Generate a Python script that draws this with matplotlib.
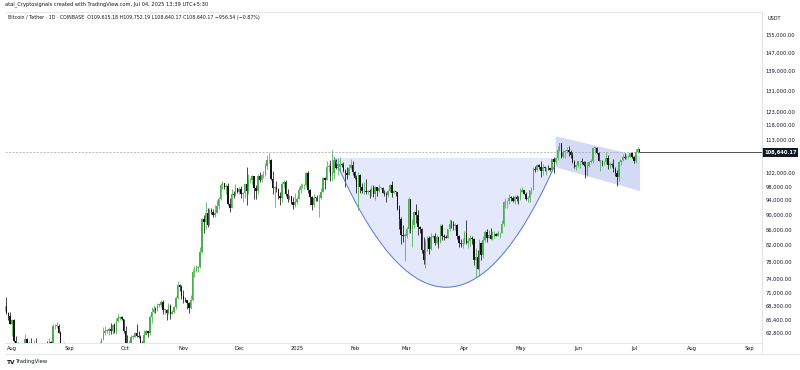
import numpy as np
import matplotlib.pyplot as plt
import matplotlib.dates as mdates
from matplotlib.ticker import NullLocator, FuncFormatter

# BTC/USDT daily candles, thousands of USDT, first day 2024-07-28
first_day = '2024-07-28'
first_open = 67.9

close = [
    # Jul 28-31
    68.2, 66.8, 66.2, 64.6,
    # Aug
    65.3, 61.4, 60.7, 58.1, 54.0, 56.0, 55.1, 61.7, 60.9, 60.9, 58.7, 59.4, 60.6, 58.7, 57.5, 58.9,
    59.5, 58.4, 59.5, 59.0, 61.2, 60.4, 64.1, 64.2, 64.2, 62.8, 59.4, 59.0, 59.4, 59.1, 58.9,
    # Sep
    57.3, 59.1, 57.5, 58.0, 56.2, 54.0, 54.8, 54.9, 57.0, 57.6, 57.3, 58.1, 60.5, 60.0, 59.2,
    58.2, 60.3, 61.7, 62.9, 63.2, 63.3, 63.6, 63.3, 64.3, 63.1, 65.2, 65.8, 65.9, 65.6, 63.3,
    # Oct
    60.8, 60.6, 60.8, 62.1, 62.1, 62.8, 62.2, 62.1, 60.6, 60.3, 62.5, 63.2, 62.8, 66.0, 67.0, 67.6,
    67.4, 68.4, 68.4, 69.0, 67.4, 67.4, 66.7, 68.2, 66.6, 67.0, 67.9, 69.9, 72.7, 72.3, 70.2,
    # Nov
    69.5, 69.4, 68.8, 67.8, 69.4, 75.6, 75.9, 76.5, 76.7, 80.4, 88.7, 87.9, 90.5, 87.3, 91.1,
    90.6, 89.8, 90.5, 92.3, 94.3, 98.3, 98.9, 97.7, 98.0, 93.0, 91.9, 95.9, 95.6, 97.5, 96.4,
    # Dec
    97.2, 95.9, 96.0, 98.8, 96.6, 99.9, 99.9, 101.2, 97.4, 96.7, 101.2, 100.0, 101.4, 101.4, 104.3,
    106.1, 106.1, 100.2, 97.5, 97.8, 97.2, 95.1, 94.7, 98.7, 99.4, 95.8, 94.2, 95.2, 93.6, 92.6, 93.4,
    # Jan 2025
    94.4, 96.9, 98.1, 98.2, 98.3, 102.1, 96.9, 95.0, 92.5, 94.7, 94.6, 94.5, 94.5, 96.5, 100.5,
    99.9, 104.1, 104.4, 101.1, 102.0, 106.1, 103.7, 104.0, 104.8, 104.7, 102.6, 102.0, 101.3, 103.7,
    104.7, 102.4,
    # Feb
    100.6, 97.7, 101.4, 97.8, 96.6, 96.6, 96.5, 96.5, 96.4, 97.4, 95.7, 97.8, 96.6, 97.5,
    97.6, 96.2, 95.8, 95.5, 96.6, 98.3, 96.1, 96.6, 96.3, 91.5, 88.7, 84.7, 84.4, 84.4,
    # Mar
    86.0, 94.3, 86.1, 87.2, 90.6, 89.9, 86.7, 86.2, 80.7, 78.5, 82.9, 83.7, 81.1, 84.0, 84.3, 82.6,
    84.1, 82.7, 86.8, 84.2, 84.1, 83.8, 86.1, 87.5, 87.4, 86.9, 87.2, 84.4, 82.6, 82.3, 82.5,
    # Apr
    85.2, 82.5, 83.1, 83.8, 83.5, 78.4, 79.1, 76.3, 82.6, 79.6, 83.4, 85.3, 83.7, 84.6, 83.6,
    84.0, 84.9, 84.4, 85.0, 85.1, 87.5, 93.4, 93.7, 93.9, 94.7, 94.6, 93.7, 95.0, 94.3, 94.2,
    # May
    96.5, 96.9, 95.9, 94.3, 94.7, 96.8, 97.0, 103.2, 102.9, 104.6, 104.1, 102.8, 104.1, 103.5, 103.7,
    103.5, 103.1, 106.4, 105.6, 106.8, 109.6, 111.7, 107.3, 108.9, 109.0, 109.4, 108.9, 107.8, 105.6,
    103.9, 104.6,
    # Jun
    105.7, 105.8, 105.4, 104.7, 101.5, 104.3, 105.6, 105.7, 110.2, 110.2, 108.6, 105.9, 106.0, 105.4,
    105.6, 106.8, 104.5, 104.8, 104.6, 103.3, 102.1, 100.9, 105.5, 106.1, 107.3, 106.9, 107.1, 107.3,
    108.4, 107.1,
    # Jul 1-4
    105.7, 108.8, 109.61518, 108.64017,
]

high = [
    68.3, 70.0, 66.9, 66.9,
    65.6, 65.6, 62.2, 61.1, 58.3, 57.0, 57.7, 62.7, 61.8, 61.4, 61.8, 60.7, 61.6, 61.8, 59.8, 59.8,
    59.6, 60.2, 59.6, 61.4, 61.8, 61.4, 64.5, 64.5, 65.0, 64.5, 63.2, 60.2, 61.2, 59.9, 59.4,
    59.1, 59.4, 59.8, 58.5, 58.3, 56.9, 54.9, 55.3, 58.1, 58.0, 57.9, 58.6, 60.6, 60.7, 60.4,
    59.2, 61.3, 61.8, 63.9, 64.1, 63.6, 64.0, 64.8, 64.6, 64.8, 65.8, 66.5, 66.2, 66.1, 65.6,
    64.1, 62.4, 61.5, 62.5, 62.4, 63.0, 64.5, 63.2, 62.5, 61.3, 63.4, 63.5, 63.3, 66.4, 67.9, 68.4,
    68.0, 68.9, 68.7, 69.4, 69.5, 67.8, 67.5, 68.8, 68.7, 67.4, 68.3, 70.2, 73.6, 72.9, 72.7,
    71.6, 70.0, 69.4, 69.0, 70.5, 76.4, 76.9, 77.2, 76.9, 81.5, 89.0, 89.9, 93.4, 91.8, 91.8,
    91.8, 91.5, 92.6, 94.0, 94.9, 98.9, 99.6, 98.8, 98.6, 98.9, 94.7, 97.2, 96.6, 98.7, 97.5,
    97.9, 98.2, 96.3, 99.0, 104.0, 101.9, 100.5, 101.4, 101.2, 98.3, 101.9, 102.5, 101.9, 102.6, 105.2,
    107.8, 108.3, 106.5, 102.8, 98.1, 99.5, 97.4, 96.4, 99.4, 99.9, 99.9, 97.3, 95.5, 95.2, 94.9, 96.1,
    94.9, 97.8, 98.9, 98.7, 98.8, 102.5, 102.7, 97.3, 95.3, 95.8, 94.9, 95.4, 95.8, 97.4, 100.7,
    100.9, 105.9, 104.9, 106.3, 109.5, 107.2, 106.4, 106.8, 107.1, 105.3, 105.5, 103.2, 103.8, 104.8,
    106.4, 106.0,
    102.8, 101.5, 102.5, 101.7, 99.0, 99.2, 100.1, 96.9, 97.3, 98.3, 98.5, 98.1, 97.9, 98.8,
    97.9, 97.7, 97.0, 96.5, 96.9, 98.7, 99.5, 96.9, 96.6, 96.5, 92.5, 89.3, 87.1, 85.1,
    86.6, 95.0, 94.4, 88.9, 91.0, 92.8, 91.2, 86.9, 86.4, 84.0, 83.6, 84.4, 84.3, 85.2, 84.7, 85.0,
    84.7, 84.1, 87.4, 87.4, 84.8, 84.6, 86.2, 88.7, 88.5, 88.3, 87.7, 87.5, 84.6, 83.5, 83.9,
    85.5, 88.5, 83.9, 84.7, 84.2, 83.8, 81.2, 80.8, 83.5, 82.7, 84.2, 85.9, 86.1, 85.8, 86.4,
    85.5, 85.5, 85.1, 85.6, 85.3, 88.5, 93.9, 94.7, 94.0, 95.8, 95.3, 95.2, 95.6, 95.5, 95.2,
    97.4, 97.9, 96.9, 96.3, 95.2, 96.9, 97.7, 103.9, 104.3, 104.9, 104.9, 105.8, 104.9, 104.3, 104.1,
    104.5, 103.7, 106.6, 107.1, 107.2, 110.7, 111.9, 111.9, 109.5, 109.3, 110.4, 110.7, 109.3, 108.9,
    106.3, 104.9,
    105.9, 105.9, 106.8, 106.0, 105.9, 105.4, 105.9, 106.4, 110.5, 110.4, 110.4, 108.8, 106.2, 106.2,
    106.0, 108.9, 107.7, 105.6, 105.2, 106.5, 104.0, 103.1, 106.0, 106.3, 108.0, 108.3, 107.8, 107.6,
    108.5, 108.8,
    107.5, 109.8, 110.5, 109.75219,
]

low = [
    67.1, 66.5, 65.3, 64.5,
    62.3, 61.2, 59.9, 57.2, 49.1, 54.0, 54.6, 54.7, 59.6, 60.3, 58.4, 57.7, 58.5, 58.4, 56.1, 57.1,
    58.8, 58.4, 57.9, 58.6, 58.8, 59.8, 60.4, 63.6, 63.8, 62.8, 58.1, 57.9, 58.8, 57.8, 58.7,
    57.2, 57.1, 57.4, 55.6, 55.7, 52.6, 53.8, 53.6, 54.6, 56.4, 55.5, 57.3, 57.6, 59.6, 58.7,
    57.5, 57.6, 59.2, 61.6, 62.4, 62.8, 62.4, 62.7, 62.7, 62.9, 62.7, 64.9, 65.4, 65.4, 62.9,
    60.2, 59.9, 59.8, 60.5, 61.7, 62.0, 62.1, 61.8, 60.3, 58.9, 60.1, 62.4, 62.0, 62.4, 64.8, 66.7,
    66.7, 67.1, 68.0, 68.0, 66.6, 66.6, 65.3, 66.5, 65.6, 66.5, 66.8, 67.5, 69.7, 71.4, 69.7,
    68.8, 69.0, 67.5, 66.8, 67.5, 69.3, 74.5, 75.6, 75.7, 76.5, 80.2, 85.1, 86.2, 86.7, 87.1,
    90.1, 89.3, 89.4, 90.4, 91.6, 94.1, 97.3, 97.2, 95.8, 92.7, 90.8, 91.7, 94.7, 95.3, 96.0,
    95.7, 94.5, 93.6, 94.7, 92.5, 95.8, 98.9, 98.7, 94.2, 94.3, 95.7, 99.3, 99.3, 100.6, 101.2,
    103.3, 105.3, 100.0, 95.7, 92.2, 96.4, 94.2, 92.5, 93.4, 97.6, 95.2, 93.4, 94.1, 93.0, 91.5, 92.0,
    92.8, 94.2, 96.0, 97.5, 97.3, 97.9, 96.2, 92.5, 91.2, 92.2, 93.8, 93.7, 89.2, 94.3, 96.5,
    97.3, 99.9, 102.3, 99.6, 99.5, 100.1, 103.3, 101.3, 102.8, 104.1, 102.5, 97.8, 100.3, 101.3,
    103.3, 101.6,
    100.3, 96.2, 91.2, 96.2, 96.2, 95.7, 95.7, 95.7, 94.7, 95.3, 94.9, 94.1, 95.2, 96.3,
    97.1, 96.0, 95.2, 93.4, 95.0, 96.4, 94.9, 96.0, 95.2, 91.2, 86.0, 82.3, 82.8, 78.2,
    83.8, 85.0, 85.1, 81.5, 86.3, 87.8, 84.7, 85.2, 80.1, 77.5, 76.6, 80.6, 79.9, 80.7, 83.9, 82.0,
    82.4, 81.2, 82.6, 83.2, 83.2, 83.7, 83.7, 85.6, 86.4, 85.9, 85.9, 83.6, 81.6, 81.6, 81.3,
    82.4, 82.3, 81.2, 81.7, 82.4, 77.2, 74.5, 76.2, 74.6, 78.4, 78.9, 82.7, 82.9, 83.7, 83.6,
    83.2, 83.9, 84.2, 84.3, 83.9, 85.1, 87.0, 91.9, 91.7, 92.9, 93.9, 93.6, 92.8, 93.9, 92.9,
    94.1, 96.3, 95.7, 94.1, 93.5, 93.4, 95.8, 96.9, 102.3, 102.8, 103.4, 100.7, 101.5, 102.6, 101.4,
    103.1, 102.6, 103.0, 102.0, 104.9, 106.1, 109.2, 106.9, 106.9, 106.7, 108.6, 107.6, 106.8, 105.3,
    103.7, 103.1,
    103.9, 103.7, 105.0, 104.2, 100.4, 101.1, 103.9, 105.1, 105.3, 108.4, 108.1, 105.7, 102.7, 104.3,
    104.5, 104.9, 103.4, 103.6, 103.9, 102.4, 101.0, 98.2, 99.6, 104.7, 105.9, 106.6, 106.4, 106.9,
    107.2, 106.8,
    105.3, 105.1, 108.6, 108.64017,
]

last_price = 108640.17

# drawings: cup arc and descending channel
cup_dates = ['2025-01-21', '2025-03-21', '2025-05-19']
cup_prices = [107000, 72200, 103800]
cup_top = 107000
chan_dates = ['2025-05-20', '2025-05-20', '2025-07-04T07', '2025-07-04T07']
chan_prices = [114100, 103900, 96600, 107400]

price_ticks = [155000, 147000, 139000, 131000, 123000, 118000, 113000, 102000, 98000, 94000,
               90000, 86000, 82000, 78000, 74000, 71000, 68300, 65400, 62800]
month_starts = ['2024-08-01', '2024-09-01', '2024-10-01', '2024-11-01', '2024-12-01', '2025-01-01',
                '2025-02-01', '2025-03-01', '2025-04-01', '2025-05-01', '2025-06-01', '2025-07-01',
                '2025-08-01', '2025-09-01']
month_labels = ['Aug', 'Sep', 'Oct', 'Nov', 'Dec', '2025', 'Feb', 'Mar', 'Apr', 'May', 'Jun', 'Jul',
                'Aug', 'Sep']

c = np.array(close) * 1000
h = np.array(high) * 1000
l = np.array(low) * 1000
o = np.concatenate([[first_open * 1000], c[:-1]])
assert len(c) == len(h) == len(l), (len(c), len(h), len(l))
days = np.datetime64(first_day) + np.arange(len(c))
x = mdates.date2num(days)

up_col = '#4caf50'
dn_col = '#131313'
up = c >= o
cols = np.where(up, up_col, dn_col)

fig = plt.figure(figsize=(8, 3.7), dpi=100)
ax = fig.add_axes([5 / 800, 27 / 370, 757 / 800, 331 / 370])
ax.set_yscale('log')
x0 = mdates.date2num(np.datetime64(first_day)) + 0.24
ax.set_xlim(x0, x0 + 757 / 1.862)
ax.set_ylim(60960, 166300)

# cup
cx = mdates.date2num(np.array(cup_dates, dtype='datetime64[D]'))
coef = np.polyfit(cx, np.log(cup_prices), 2)
xs = np.linspace(cx[0], cx[-1], 300)
arc = np.exp(np.polyval(coef, xs))
ax.fill_between(xs, arc, cup_top, color='#e3e8fa', lw=0, zorder=1)
ax.plot(xs, arc, color='#5a78d6', lw=0.7, zorder=4)

# channel
chx = mdates.date2num(np.array(chan_dates, dtype='datetime64[h]'))
ax.fill(chx, chan_prices, color='#d2daf6', lw=0, zorder=1)

# candles
ax.vlines(x, l, h, colors=cols, lw=0.55, zorder=3)
body_lo = np.minimum(o, c)
body_hi = np.maximum(o, c)
body_hi = np.maximum(body_hi, body_lo * 1.002)
ax.bar(x, body_hi - body_lo, bottom=body_lo, width=0.78, color=cols, lw=0, zorder=3)

# last price line
ax.axhline(last_price, color='#a0a3ab', lw=0.5, ls=(0, (3, 2)), zorder=2)
ax.hlines(last_price, x[-1], ax.get_xlim()[1], color='#505050', lw=0.7, zorder=2)

# axes styling
ax.spines['left'].set_visible(False)
for s in ['top', 'right', 'bottom']:
    ax.spines[s].set_color('#e0e3eb')
    ax.spines[s].set_linewidth(0.6)
ax.yaxis.tick_right()
ax.set_yticks(price_ticks)
ax.yaxis.set_minor_locator(NullLocator())
ax.yaxis.set_major_formatter(FuncFormatter(lambda v, p: f'{v:,.2f}'))
ax.tick_params(axis='y', length=0, pad=2.5, labelsize=3.7, labelcolor='#131722')
ax.set_xticks(mdates.date2num(np.array(month_starts, dtype='datetime64[D]')))
ax.set_xticklabels(month_labels)
ax.tick_params(axis='x', length=0, pad=2.5, labelsize=3.7, labelcolor='#131722')
for t in ax.get_yticklabels():
    t.set_horizontalalignment('left')

ax.text(1.0 + 2 / 757, last_price, f'{last_price:,.2f}', transform=ax.get_yaxis_transform(),
        ha='left', va='center', fontsize=3.7, color='white', fontweight='bold',
        bbox=dict(boxstyle='square,pad=0.35', fc='#131722', ec='none'))

# frame lines outside the plot
fig.add_artist(plt.Line2D([5 / 800, 1], [1 - 354 / 370] * 2, color='#e0e3eb', lw=0.6))
fig.add_artist(plt.Line2D([762 / 800] * 2, [1 - 354 / 370, 1 - 12 / 370], color='#e0e3eb', lw=0.6))

fig.text(768 / 800, 1 - 19 / 370, 'USDT', fontsize=3.6, color='#131722', va='center')
fig.text(5 / 800, 1 - 4 / 370, 'atai_Cryptosignals created with TradingView.com, Jul 04, 2025 13:39 UTC+5:30',
         fontsize=3.7, color='#131722', va='center')
fig.text(8 / 800, 1 - 17 / 370,
         'Bitcoin / Tether · 1D · COINBASE  O109,615.18 H109,752.19 L108,640.17 C108,640.17 '
         '\u2212956.54 (\u22120.87%)',
         fontsize=3.4, color='#131722', va='center')
fig.text(7 / 800, 1 - 362 / 370, 'TV', fontsize=4.2, fontweight='bold', color='#131722', va='center')
fig.text(16 / 800, 1 - 362 / 370, 'TradingView', fontsize=3.8, color='#131722', va='center')

fig.savefig('out.png', dpi=100, facecolor='white')
